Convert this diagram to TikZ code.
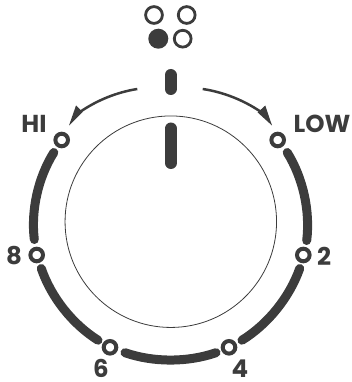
\documentclass[tikz,border=0pt]{standalone}
\usepackage{fontspec}
\setmainfont{Poppins}[BoldFont={Poppins Bold}]
\usetikzlibrary{arrows.meta}
\definecolor{ink}{HTML}{3C3C3C}
\tikzset{
  ring/.style={circle,draw=ink,line width=4pt,minimum size=12.6pt,inner sep=0pt,fill=white},
  led/.style={circle,draw=ink,line width=2.8pt,minimum size=16.8pt,inner sep=0pt},
  ledon/.style={circle,fill=ink,minimum size=20pt,inner sep=0pt},
  lab/.style={text=ink,font=\fontsize{24.5}{25}\selectfont\bfseries,inner sep=0pt,anchor=center},
  band/.style={draw=ink,line width=9pt,line cap=round},
  pill/.style={draw=ink,line width=12pt,line cap=round},
  sweep/.style={draw=ink,line width=2.5pt},
  tip/.style={fill=ink,draw=none}
}
\begin{document}
\begin{tikzpicture}[x=1pt,y=-1pt]
\useasboundingbox (0,0) rectangle (352,382);
% LEDs
\node[led] (l1) at (154,15) {};
\node[led] (l2) at (186.7,15) {};
\node[ledon] (l3) at (158.3,38.7) {};
\node[led] (l4) at (182.7,38.7) {};
% pointer on the top
\coordinate (p1) at (170.5,75);
\coordinate (p2) at (170.5,89);
\draw[pill] (p1) -- (p2);
% dial
\node[circle,draw=ink,line width=0.8pt,minimum size=211.5pt,inner sep=0pt] (dial) at (170.8,221.7) {};
\coordinate (k1) at (170.8,128.5);
\coordinate (k2) at (170.8,163);
\draw[pill] (k1) -- (k2);
% rings
\node[ring] (hi) at (61.7,140) {};
\node[ring] (low) at (277.7,140) {};
\node[ring] (r8) at (36.7,255) {};
\node[ring] (r2) at (303.3,255) {};
\node[ring] (r6) at (110,347.3) {};
\node[ring] (r4) at (229,347.3) {};
% bands
\coordinate (a1) at (53.8,152.5);
\coordinate (a2) at (34.3,239.5);
\coordinate (b1) at (287.2,152.5);
\coordinate (b2) at (306.7,240.5);
\coordinate (c1) at (41.3,268.5);
\coordinate (c2) at (98,340.2);
\coordinate (d1) at (299.7,268.5);
\coordinate (d2) at (242,340.2);
\coordinate (e1) at (125,352.7);
\coordinate (e2) at (216,352.7);
\draw[band] (a1) to[bend right=19.4,looseness=.85] (a2);
\draw[band] (b1) to[bend left=19.4,looseness=.85] (b2);
\draw[band] (c1) to[bend right=19.4,looseness=.85] (c2);
\draw[band] (d1) to[bend left=19.4,looseness=.85] (d2);
\draw[band] (e1) to[bend right=19,looseness=.85] (e2);
% sweep arrows
\coordinate (s1) at (137.3,89);
\coordinate (s2) at (80,112);
\coordinate (s3) at (202.7,89);
\coordinate (s4) at (261,112);
\draw[sweep] (s1) to[bend right=13,looseness=.85] (s2);
\draw[sweep] (s3) to[bend left=13,looseness=.85] (s4);
\fill[tip] (69,125.5) -- (76,105.5) -- (82.7,112) -- cycle;
\fill[tip] (272,125.5) -- (265.3,105.5) -- (257.7,112.5) -- cycle;
% labels
\node[lab] (thi) at (34,123.5) {HI};
\node[lab] (tlow) at (322,123.5) {LOW};
\node[lab] (t8) at (14,256) {8};
\node[lab] (t2) at (324,256) {2};
\node[lab] (t6) at (101,368.5) {6};
\node[lab] (t4) at (240,368.5) {4};
\end{tikzpicture}
\end{document}
